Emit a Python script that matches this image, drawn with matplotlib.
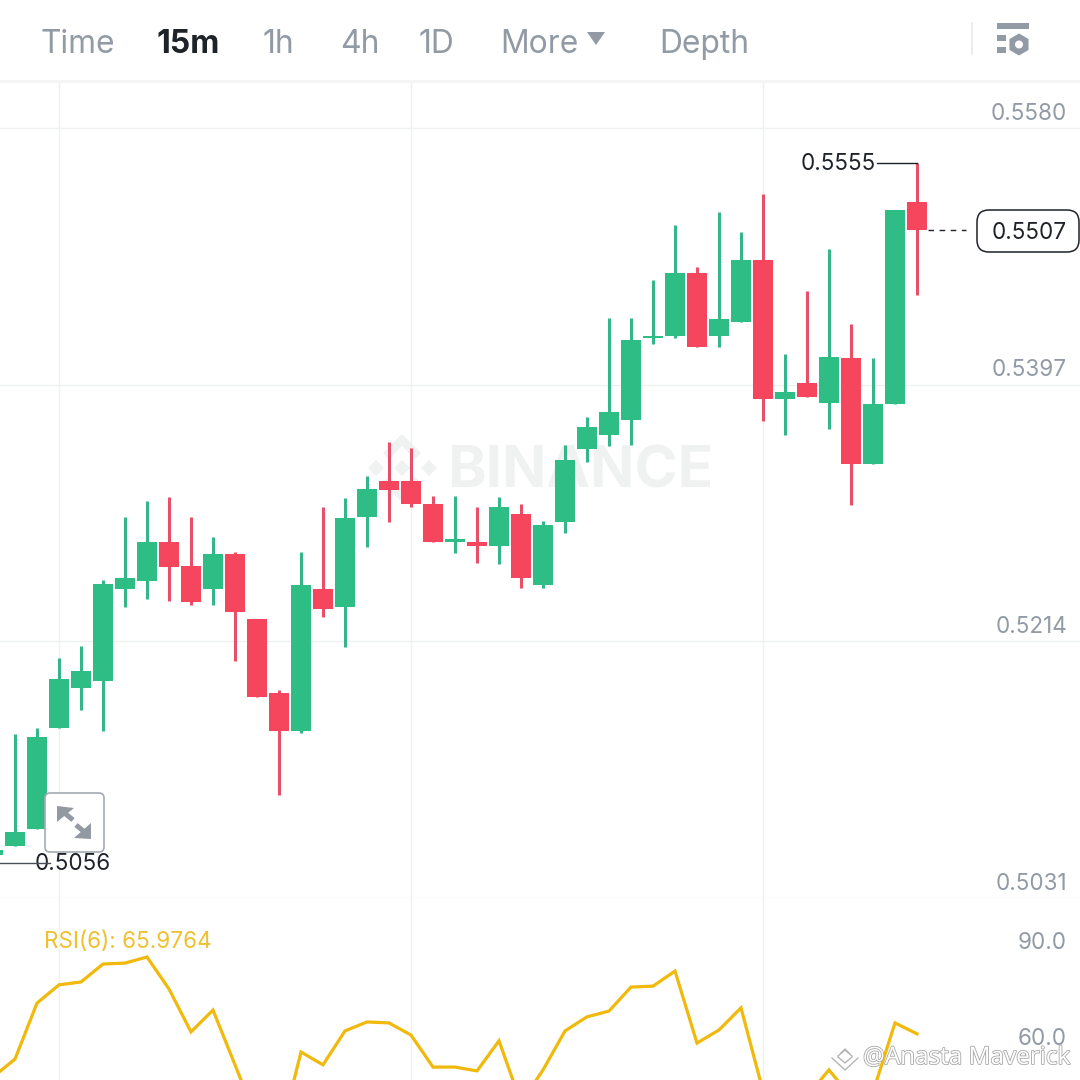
import matplotlib
matplotlib.use("Agg")
import matplotlib.pyplot as plt
import matplotlib.patheffects as pe
from matplotlib.patches import FancyBboxPatch, Polygon, Rectangle, RegularPolygon, Circle

# ---- data -------------------------------------------------------------
candle_index = list(range(-1, 42))
opens = [.50616, .50681, .50802, .51522, .51807, .51857, .52513, .52570, .52848, .52677, .52513, .52763, .52299, .51772,
         .51501, .52513, .52385, .53026, .53283, .53283, .53119, .52848, .52848, .52820, .53048, .52542, .52991, .53511,
         .53611, .53718, .54303, .54317, .54766, .54317, .54417, .54859, .53868, .53982, .53839, .54160, .53404, .53832, .55272]
highs = [.50652, .51479, .51522, .52021, .52107, .52577, .53026, .53141, .53169, .53026, .52884, .52777, .52299, .51793,
         .52777, .53098, .53162, .53319, .53561, .53518, .53176, .53176, .53098, .53169, .53119, .52998, .53540, .53739,
         .54445, .54445, .54716, .55108, .54809, .55201, .55058, .55329, .54189, .54638, .54937, .54403, .54160, .55215, .55550]
lows = [.50567, .50681, .50802, .51522, .51650, .51501, .52385, .52442, .52428, .52399, .52399, .52000, .51743, .51044,
        .51486, .52313, .52100, .52813, .52991, .53098, .52848, .52770, .52698, .52691, .52520, .52520, .52912, .53419,
        .53533, .53540, .54260, .54303, .54239, .54239, .54417, .53711, .53611, .53882, .53654, .53112, .53404, .53832, .54609]
closes = [.50652, .50780, .51458, .51871, .51928, .52549, .52591, .52848, .52670, .52420, .52763, .52349, .51743, .51501,
          .52542, .52370, .53019, .53226, .53219, .53119, .52848, .52870, .52820, .53098, .52591, .52969, .53433, .53668,
          .53775, .54288, .54317, .54766, .54239, .54438, .54859, .53868, .53918, .53882, .54167, .53404, .53832, .55215, .55073]
rsi = [52.5, 58.1, 75.6, 81.3, 82.2, 87.8, 88.1, 90.0, 80.0, 66.6, 73.4, 56.3, 39.0, 32.8, 60.3, 56.3, 66.9, 69.7, 69.4, 65.6,
       55.6, 55.6, 54.4, 63.8, 44.4, 54.7, 66.9, 71.3, 73.1, 80.6, 80.9, 85.6, 63.1, 67.2, 74.1, 48.1, 43.8, 46.6, 54.7, 46.3,
       47.8, 69.4, 65.98]
price_ticks = [0.5580, 0.5397, 0.5214, 0.5031]
rsi_ticks = [90.0, 60.0]
time_grid_index = [2, 18, 34]
high_value, low_value, last_value = 0.5555, 0.5056, 0.5507
tabs = [("Time", 40, False), ("15m", 157, True), ("1h", 263, False), ("4h", 340, False),
        ("1D", 419, False), ("More", 500, False), ("Depth", 659, False)]

# ---- style ------------------------------------------------------------
GREEN, RED = "#2EBD85", "#F6465D"
WICK_GREEN, WICK_RED = "#35B68A", "#E84F68"
GREY, DARK, GRID, GOLD = "#929AA5", "#1E2329", "#EEF0F2", "#F0B90B"
plt.rcParams["font.family"] = ["Inter", "Roboto", "DejaVu Sans"]
LABEL_SIZE = 16.2

fig = plt.figure(figsize=(10.8, 10.8), dpi=100, facecolor="white")
W = H = 1080.0
def axes_px(l, t, r, b, z):
    a = fig.add_axes([l / W, 1 - b / H, (r - l) / W, (b - t) / H], zorder=z)
    a.patch.set_alpha(0)
    for s in a.spines.values():
        s.set_visible(False)
    a.tick_params(left=False, bottom=False, labelleft=False, labelbottom=False)
    return a

bg = axes_px(0, 0, 1080, 1080, 0); bg.set_xlim(0, 1080); bg.set_ylim(1080, 0); bg.axis("off")
fg = axes_px(0, 0, 1080, 1080, 3); fg.set_xlim(0, 1080); fg.set_ylim(1080, 0); fg.axis("off")
main = axes_px(0, 82, 1080, 898, 1)
low_ax = axes_px(0, 898, 1080, 1080, 1)

xlim = (-15 / 22, 1065 / 22)
main.set_xlim(*xlim); low_ax.set_xlim(*xlim)
main.set_ylim(0.5031, 0.56128)
low_ax.set_ylim(51.56, 108.44)

# grids
for i in time_grid_index:
    main.axvline(i, color=GRID, lw=1.0, zorder=1)
    low_ax.axvline(i, color=GRID, lw=1.0, zorder=1)
for p in price_ticks:
    main.axhline(p, color=GRID, lw=1.0, zorder=1)
    main.annotate(f"{p:.4f}", (1067, p), xycoords=("figure pixels", "data"), xytext=(0, 10.3),
                  textcoords="offset points", ha="right", va="center", color=GREY, fontsize=LABEL_SIZE)
for v in rsi_ticks:
    low_ax.annotate(f"{v:.1f}", (1067, v), xycoords=("figure pixels", "data"), xytext=(0, 10.3),
                    textcoords="offset points", ha="right", va="center", color=GREY, fontsize=LABEL_SIZE)

# candles
for i, o, h, l, c in zip(candle_index, opens, highs, lows, closes):
    up = c >= o
    main.vlines(i, l, h, color=WICK_GREEN if up else WICK_RED, lw=2.2, zorder=3)
    main.bar(i, abs(c - o), bottom=min(o, c), width=0.885, color=GREEN if up else RED, linewidth=0, zorder=4)

# high / low / last annotations
main.plot([35 / 22, -15 / 22], [low_value, low_value], color="#4a4f56", lw=1.0, zorder=5)
main.plot([(877 - 15) / 22, 41], [high_value, high_value], color="#1E2329", lw=1.0, zorder=5)
main.plot([(928 - 15) / 22, (966 - 15) / 22], [last_value, last_value], color=DARK, lw=1.0, dashes=(4, 4), zorder=5)
main.annotate(f"{high_value:.4f}", ((876 - 15) / 22, high_value), xytext=(0, -1), textcoords="offset points",
              ha="right", va="center", color=DARK, fontsize=LABEL_SIZE)
main.annotate(f"{low_value:.4f}", ((35 - 15) / 22, low_value), xytext=(0, -0.5), textcoords="offset points",
              ha="left", va="center", color=DARK, fontsize=LABEL_SIZE)
fg.add_patch(FancyBboxPatch((989, 222), 78, 18, boxstyle="round,pad=12,rounding_size=12", fc="white", ec=DARK, lw=1.1))
fg.text(1029, 233, f"{last_value:.4f}", ha="center", va="center", color=DARK, fontsize=LABEL_SIZE)

# RSI
low_ax.plot(candle_index, rsi, color=GOLD, lw=2.3, solid_joinstyle="miter", zorder=3)
low_ax.text(44, 942, "RSI(6): 65.9764", transform=bg.transData, color="#EFC12F", fontsize=LABEL_SIZE, ha="left", va="center")

# header
bg.add_patch(Rectangle((0, 0), 1080, 80, fc="white", ec="none"))
bg.add_patch(Rectangle((0, 80), 1080, 3, fc="#F5F5F5", ec="none"))
for label, x, active in tabs:
    bg.text(x, 53, label, ha="left", va="baseline", fontsize=22.9,
            color=DARK if active else GREY, fontweight="bold" if active else "normal")
bg.add_patch(Polygon([(587, 32), (605, 32), (596, 45)], closed=True, fc=GREY, ec="none"))
bg.add_patch(Rectangle((971, 22), 2, 33, fc="#EAECEF", ec="none"))
bg.add_patch(Rectangle((997, 23), 32, 6, fc=GREY, ec="none"))
bg.add_patch(Rectangle((997, 35), 9, 6, fc=GREY, ec="none"))
bg.add_patch(Rectangle((997, 47), 9, 6, fc=GREY, ec="none"))
bg.add_patch(RegularPolygon((1019, 44.5), 6, radius=11, fc=GREY, ec="none"))
bg.add_patch(Circle((1019, 44.5), 4, fc="white", ec="none"))

# BINANCE watermark
wm = "#F0F1F1"
bg.text(447, 487, "BINANCE", ha="left", va="baseline", fontsize=42, fontweight="bold", color=wm)
def diamond(cx, cy, r):
    bg.add_patch(Polygon([(cx, cy - r), (cx + r, cy), (cx, cy + r), (cx - r, cy)], closed=True, fc=wm, ec="none"))
for cx in (376, 402, 429):
    diamond(cx, 468, 8)
for s in (1, -1):
    bg.add_patch(Polygon([(383, 468 - s * 15), (402, 468 - s * 34), (421, 468 - s * 15), (415, 468 - s * 9),
                          (402, 468 - s * 22), (389, 468 - s * 9)], closed=True, fc=wm, ec="none"))

# expand button
fg.add_patch(FancyBboxPatch((48, 796), 53, 53, boxstyle="round,pad=3,rounding_size=5", fc="white", ec="#A4A9B1", lw=1.2))
fg.add_patch(Polygon([(57, 806), (74, 808), (57, 822)], closed=True, fc="#9399A3", ec="none"))
fg.add_patch(Polygon([(91, 839), (74, 838), (91, 823)], closed=True, fc="#9399A3", ec="none"))
fg.plot([62, 73], [811, 820], color="#9399A3", lw=3.6, solid_capstyle="butt")
fg.plot([76, 87], [825, 834], color="#9399A3", lw=3.6, solid_capstyle="butt")

# user watermark
fg.text(863, 1058, "@Anasta Maverick", ha="left", va="center", fontsize=17.5, color="white",
        family=["Open Sans", "DejaVu Sans"],
        path_effects=[pe.withStroke(linewidth=1.2, foreground="#A8A8A8")])
for pts in ([(832, 1058), (845, 1070), (858, 1058)], [(838, 1057), (845, 1063), (852, 1057)],
            [(838, 1056), (845, 1050), (852, 1056)], [(841, 1053), (845, 1049), (849, 1053)]):
    fg.plot(*zip(*pts), color="#B5B5B5", lw=1.0)

fig.savefig("out.png", dpi=100, facecolor="white")
